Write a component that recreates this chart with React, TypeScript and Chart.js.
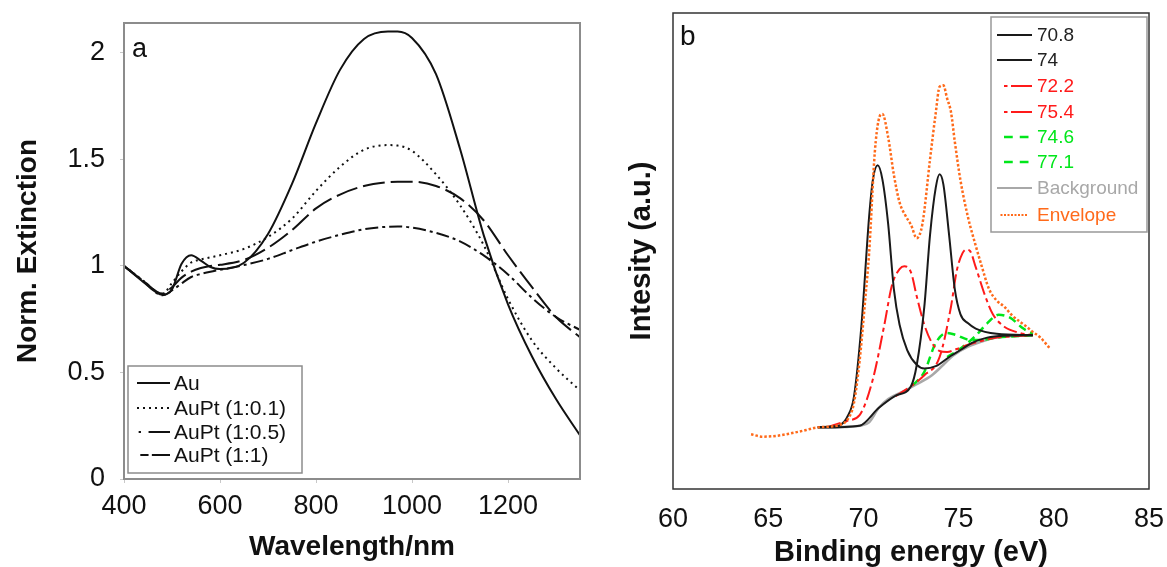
import React, { useEffect, useRef } from "react";
import { Chart, registerables } from "chart.js";
Chart.register(...registerables);

const FONT = "'Liberation Sans', Arial, sans-serif";

// ---------- Panel a data ----------
const wavelengths = [400, 440, 480, 500, 520, 540, 560, 580, 600, 650, 700, 750, 800, 850, 900, 950, 970, 1000, 1050, 1100, 1150, 1200, 1250, 1300, 1350];
const auValues = [1.0, 0.925, 0.865, 0.89, 1.01, 1.05, 1.025, 0.995, 0.985, 1.015, 1.15, 1.385, 1.67, 1.92, 2.065, 2.1, 2.1, 2.07, 1.9, 1.55, 1.14, 0.82, 0.575, 0.375, 0.205];
const auPt01Values = [1.0, 0.93, 0.868, 0.92, 0.975, 1.016, 1.03, 1.04, 1.05, 1.08, 1.136, 1.222, 1.352, 1.465, 1.545, 1.567, 1.565, 1.54, 1.43, 1.285, 1.095, 0.845, 0.65, 0.52, 0.415];
const auPt05Values = [1.0, 0.93, 0.87, 0.9, 0.945, 0.973, 0.99, 1.0, 1.005, 1.028, 1.085, 1.168, 1.27, 1.335, 1.375, 1.393, 1.395, 1.395, 1.375, 1.318, 1.212, 1.05, 0.9, 0.76, 0.665];
const auPt11Values = [1.0, 0.93, 0.862, 0.885, 0.918, 0.948, 0.962, 0.973, 0.982, 1.004, 1.033, 1.074, 1.114, 1.146, 1.172, 1.184, 1.185, 1.18, 1.155, 1.115, 1.048, 0.96, 0.85, 0.76, 0.7];
const wavelengthTicks = [400, 600, 800, 1000, 1200];
const extinctionTicks = [0, 0.5, 1, 1.5, 2];

// ---------- Panel b data ----------
const envelopeX = [64.1, 64.7, 65.5, 66.2, 67.0, 67.5, 68.2, 68.7, 69.2, 69.5, 69.8, 70.1, 70.3, 70.6, 70.8, 71.0, 71.3, 71.6, 71.9, 72.2, 72.5, 72.8, 73.1, 73.5, 73.8, 74.0, 74.2, 74.4, 74.6, 74.8, 75.1, 75.5, 75.9, 76.2, 76.6, 77.0, 77.4, 77.8, 78.2, 78.6, 78.9, 79.3, 79.8];
const envelopeY = [11.5, 11.0, 11.2, 11.7, 12.4, 12.9, 13.1, 13.4, 14.8, 18, 26.9, 40, 49.6, 70.8, 77.5, 78.8, 73.9, 66, 60.2, 57.5, 55.5, 52.7, 55.7, 69.3, 79, 84.5, 84.8, 82, 79.2, 73, 64.8, 57, 51.1, 47, 42, 39.6, 38.3, 36.5, 35.2, 34, 33, 31.8, 29.5];
const peak708X = [67.6, 68.2, 68.7, 69.2, 69.5, 69.9, 70.3, 70.5, 70.75, 71.0, 71.3, 71.6, 71.9, 72.3, 72.8, 73.2, 73.8, 74.6, 75.1, 75.7, 76.5, 77.4, 78.9];
const peak708Y = [13.0, 13.1, 13.3, 15.5, 19.3, 34.5, 57.2, 65, 68, 65, 55.7, 42, 34.5, 29.2, 26.1, 25.3, 25.8, 28, 29.2, 30.7, 31.8, 32.2, 32.3];
const peak74X = [67.6, 69.8, 70.8, 71.7, 72.5, 72.8, 73.2, 73.5, 73.8, 74.0, 74.2, 74.5, 74.8, 75.1, 75.5, 75.9, 77.0, 78.9];
const peak74Y = [12.9, 13.3, 17, 19.6, 21.6, 26, 38.3, 53.4, 63.3, 66.1, 64, 53.4, 42, 36.7, 34.8, 33.7, 32.6, 32.3];
const peak722X = [68.1, 69.2, 69.8, 70.5, 71.1, 71.5, 71.9, 72.15, 72.5, 72.8, 73.2, 73.6, 74.0, 74.4, 74.9, 75.5, 76.3, 77.0, 78.9];
const peak722Y = [13.0, 14.4, 15.5, 23.1, 34.5, 42.8, 46.2, 46.8, 45.5, 40.5, 34.5, 30.7, 29, 28.8, 29.4, 30.3, 31.2, 31.8, 32.3];
const peak754X = [71.7, 72.5, 73.2, 74.0, 74.6, 74.9, 75.2, 75.4, 75.6, 75.9, 76.4, 76.8, 77.4, 78.2, 78.9];
const peak754Y = [19.5, 21.6, 23.9, 27.7, 38.3, 45.8, 49.5, 50.3, 50, 46.6, 40.5, 36.7, 34.1, 32.8, 32.3];
const peak746X = [72.6, 73.2, 73.8, 74.4, 74.9, 75.5, 76.1, 77.0, 78.9];
const peak746Y = [21.8, 24.6, 30.7, 32.8, 32.3, 31.4, 31.3, 31.8, 32.3];
const peak771X = [74.4, 75.1, 75.9, 76.5, 77.1, 77.7, 78.4, 78.9];
const peak771Y = [27.7, 29.5, 32.2, 34.8, 36.6, 36, 33.7, 32.6];
const backgroundX = [67.6, 68.5, 69.8, 70.3, 70.8, 71.3, 72.1, 72.8, 73.6, 74.2, 74.7, 75.5, 76.3, 77.0, 78.0, 78.9];
const backgroundY = [12.9, 13.0, 13.3, 14, 17, 18.9, 20.5, 22, 23.9, 26.1, 28, 29.9, 31.1, 31.8, 32.2, 32.3];
const energyTicks = [60, 65, 70, 75, 80, 85];

const pts = (xs: number[], ys: number[]) => xs.map((x, i) => ({ x, y: ys[i] }));

type LegendItem = { label: string; color: string; textColor: string; width: number; segs: number[][]; dash?: number[] };

function makeLegendPlugin(id: string, box: { l: number; t: number; r: number; b: number; border: string }, rows: number[], sx0: number, sx1: number, tx: number, fontSize: number, items: LegendItem[], tag: { text: string; x: number; y: number; size: number }, frame: { color: string; width: number }) {
  return {
    id,
    afterDatasetsDraw(chart: any) {
      const ctx = chart.ctx;
      const ca = chart.chartArea;
      ctx.save();
      ctx.strokeStyle = frame.color;
      ctx.lineWidth = frame.width;
      ctx.setLineDash([]);
      ctx.strokeRect(ca.left, ca.top, ca.right - ca.left, ca.bottom - ca.top);
      ctx.fillStyle = "#111";
      ctx.font = `${tag.size}px ${FONT}`;
      ctx.textAlign = "left";
      ctx.textBaseline = "middle";
      ctx.fillText(tag.text, tag.x, tag.y);
      ctx.fillStyle = "#fff";
      ctx.fillRect(box.l, box.t, box.r - box.l, box.b - box.t);
      ctx.strokeStyle = box.border;
      ctx.lineWidth = 1.5;
      ctx.strokeRect(box.l, box.t, box.r - box.l, box.b - box.t);
      ctx.font = `${fontSize}px ${FONT}`;
      items.forEach((it, i) => {
        const y = rows[i];
        ctx.strokeStyle = it.color;
        ctx.lineWidth = it.width;
        ctx.setLineDash(it.dash || []);
        it.segs.forEach(([a, b]) => {
          ctx.beginPath();
          ctx.moveTo(sx0 + a * (sx1 - sx0), y);
          ctx.lineTo(sx0 + b * (sx1 - sx0), y);
          ctx.stroke();
        });
        ctx.setLineDash([]);
        ctx.fillStyle = it.textColor;
        ctx.fillText(it.label, tx, y + 1);
      });
      ctx.restore();
    },
  };
}

const noPadX = (h: number) => (s: any) => { s.height = h; s.paddingLeft = 0; s.paddingRight = 0; };
const noPadY = (w: number) => (s: any) => { s.width = w; s.paddingTop = 0; s.paddingBottom = 0; };

function PanelA() {
  const ref = useRef<HTMLCanvasElement | null>(null);
  useEffect(() => {
    if (!ref.current) return;
    const line = (label: string, data: number[], dash: number[]) => ({
      label,
      data: pts(wavelengths, data),
      borderColor: "#111",
      borderWidth: 2,
      borderDash: dash,
      pointRadius: 0,
      fill: false,
      cubicInterpolationMode: "monotone" as const,
    });
    const legendItems: LegendItem[] = [
      { label: "Au", color: "#111", textColor: "#111", width: 2, segs: [[0, 1]] },
      { label: "AuPt (1:0.1)", color: "#111", textColor: "#111", width: 2, segs: [[0, 1]], dash: [2, 4] },
      { label: "AuPt (1:0.5)", color: "#111", textColor: "#111", width: 2, segs: [[0.05, 0.12], [0.35, 1]] },
      { label: "AuPt (1:1)", color: "#111", textColor: "#111", width: 2, segs: [[0.1, 0.35], [0.45, 1]] },
    ];
    const chart = new Chart(ref.current, {
      type: "line",
      data: {
        datasets: [
          line("Au", auValues, []),
          line("AuPt (1:0.1)", auPt01Values, [2, 4]),
          line("AuPt (1:0.5)", auPt05Values, [22, 6]),
          line("AuPt (1:1)", auPt11Values, [13, 4, 3, 4]),
        ],
      },
      options: {
        responsive: false,
        animation: false,
        layout: { padding: { left: 0, top: 23, right: 20, bottom: 0 } },
        plugins: { legend: { display: false }, tooltip: { enabled: false } },
        scales: {
          x: {
            type: "linear",
            min: 400,
            max: 1350,
            afterFit: noPadX(121),
            afterBuildTicks: (s: any) => { s.ticks = wavelengthTicks.map((v) => ({ value: v })); },
            grid: { display: true, drawOnChartArea: false, drawTicks: true, tickLength: 4, color: "#c8c8c8" },
            border: { display: false },
            ticks: { color: "#111", font: { size: 27, family: FONT }, padding: 7, callback: (v: any) => String(v), maxRotation: 0 },
            title: { display: true, text: "Wavelength/nm", color: "#111", font: { size: 28, weight: "bold", family: FONT }, padding: { top: 0, bottom: 36 } },
          },
          y: {
            type: "linear",
            min: 0,
            max: 2.14,
            afterFit: noPadY(124),
            afterBuildTicks: (s: any) => { s.ticks = extinctionTicks.map((v) => ({ value: v })); },
            grid: { display: true, drawOnChartArea: false, drawTicks: true, tickLength: 4, color: "#c8c8c8" },
            border: { display: false },
            ticks: { color: "#111", font: { size: 27, family: FONT }, padding: 15, callback: (v: any) => String(v) },
            title: { display: true, text: "Norm. Extinction", color: "#111", font: { size: 28, weight: "bold", family: FONT }, padding: { top: 11, bottom: 0 } },
          },
        },
      },
      plugins: [
        makeLegendPlugin("legA", { l: 128, t: 366, r: 302, b: 473, border: "#8c8c8c" }, [383, 408, 432, 455], 137, 170, 174, 21, legendItems, { text: "a", x: 132, y: 50, size: 27 }, { color: "#8c8c8c", width: 2 }),
      ],
    } as any);
    return () => chart.destroy();
  }, []);
  return <canvas ref={ref} width={600} height={600} style={{ position: "absolute", left: 0, top: 0, width: 600, height: 600 }} />;
}

function PanelB() {
  const ref = useRef<HTMLCanvasElement | null>(null);
  useEffect(() => {
    if (!ref.current) return;
    const line = (label: string, xs: number[], ys: number[], color: string, width: number, dash: number[]) => ({
      label,
      data: pts(xs, ys),
      borderColor: color,
      borderWidth: width,
      borderDash: dash,
      pointRadius: 0,
      fill: false,
      cubicInterpolationMode: "monotone" as const,
    });
    const RED = "#ff1a1a";
    const GREEN = "#00e61a";
    const GRAY = "#a8a8a8";
    const ORANGE = "#ff6a1a";
    const BLACK = "#1a1a1a";
    const legendItems: LegendItem[] = [
      { label: "70.8", color: BLACK, textColor: "#222", width: 2, segs: [[0, 1]] },
      { label: "74", color: BLACK, textColor: "#222", width: 2, segs: [[0, 1]] },
      { label: "72.2", color: RED, textColor: RED, width: 2, segs: [[0.2, 0.3], [0.4, 1]] },
      { label: "75.4", color: RED, textColor: RED, width: 2, segs: [[0.2, 0.3], [0.4, 1]] },
      { label: "74.6", color: GREEN, textColor: GREEN, width: 2.5, segs: [[0.2, 0.45], [0.65, 0.9]] },
      { label: "77.1", color: GREEN, textColor: GREEN, width: 2.5, segs: [[0.2, 0.45], [0.65, 0.9]] },
      { label: "Background", color: GRAY, textColor: GRAY, width: 2, segs: [[0, 1]] },
      { label: "Envelope", color: ORANGE, textColor: ORANGE, width: 2, segs: [[0.1, 0.9]], dash: [2, 1.5] },
    ];
    const chart = new Chart(ref.current, {
      type: "line",
      data: {
        datasets: [
          line("Envelope", envelopeX, envelopeY, ORANGE, 2.5, [2.5, 2]),
          line("70.8", peak708X, peak708Y, BLACK, 2, []),
          line("74", peak74X, peak74Y, BLACK, 2, []),
          line("72.2", peak722X, peak722Y, RED, 2, [14, 4, 4, 4]),
          line("75.4", peak754X, peak754Y, RED, 2, [14, 4, 4, 4]),
          line("74.6", peak746X, peak746Y, GREEN, 2.5, [8, 5]),
          line("77.1", peak771X, peak771Y, GREEN, 2.5, [8, 5]),
          line("Background", backgroundX, backgroundY, GRAY, 2.5, []),
        ],
      },
      options: {
        responsive: false,
        animation: false,
        layout: { padding: { left: 0, top: 13, right: 18, bottom: 0 } },
        plugins: { legend: { display: false }, tooltip: { enabled: false } },
        scales: {
          x: {
            type: "linear",
            min: 60,
            max: 85,
            afterFit: noPadX(111),
            afterBuildTicks: (s: any) => { s.ticks = energyTicks.map((v) => ({ value: v })); },
            grid: { display: false },
            border: { display: false },
            ticks: { color: "#111", font: { size: 27, family: FONT }, padding: 6, callback: (v: any) => String(v), maxRotation: 0 },
            title: { display: true, text: "Binding energy (eV)", color: "#111", font: { size: 29, weight: "bold", family: FONT }, padding: { top: 0, bottom: 30 } },
          },
          y: {
            type: "linear",
            min: 0,
            max: 100,
            afterFit: noPadY(73),
            grid: { display: false },
            border: { display: false },
            ticks: { display: false },
            title: { display: true, text: "Intesity (a.u.)", color: "#111", font: { size: 29, weight: "bold", family: FONT }, padding: { top: 25, bottom: 0 } },
          },
        },
      },
      plugins: [
        makeLegendPlugin("legB", { l: 391, t: 17, r: 547, b: 232, border: "#999" }, [35, 60, 86, 112, 137, 162, 188, 215], 397, 432, 437, 19, legendItems, { text: "b", x: 80, y: 37, size: 28 }, { color: "#333", width: 1.5 }),
      ],
    } as any);
    return () => chart.destroy();
  }, []);
  return <canvas ref={ref} width={567} height={600} style={{ position: "absolute", left: 600, top: 0, width: 567, height: 600 }} />;
}

export default function App() {
  return (
    <div style={{ position: "fixed", left: 0, top: 0, width: 1167, height: 567, overflow: "hidden", background: "#fff" }}>
      <PanelA />
      <PanelB />
    </div>
  );
}
